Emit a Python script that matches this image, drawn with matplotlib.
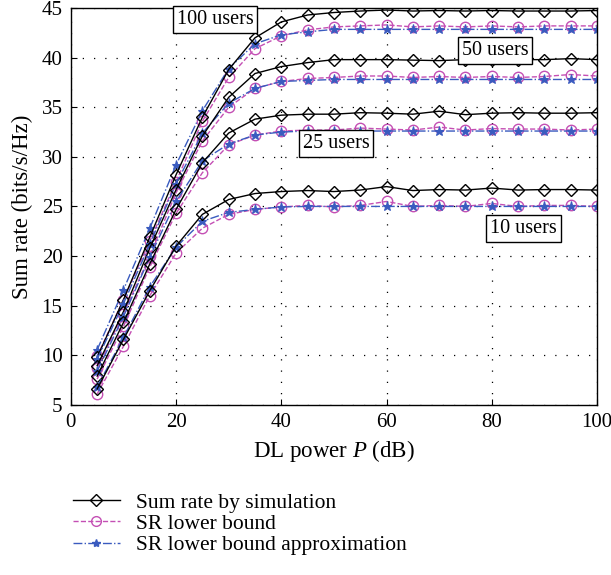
import matplotlib
matplotlib.use('Agg')
import matplotlib.pyplot as plt
from matplotlib.lines import Line2D

plt.rcParams['font.family'] = ['Liberation Serif', 'DejaVu Serif']
plt.rcParams['mathtext.fontset'] = 'custom'
plt.rcParams['mathtext.it'] = 'Liberation Serif:italic'

power_db = [5, 10, 15, 20, 25, 30, 35, 40, 45, 50, 55, 60, 65, 70, 75, 80, 85, 90, 95, 100]

# sum rate by simulation
sim_100 = [9.8, 15.6, 21.9, 28.2, 34.0, 38.8, 42.0, 43.6, 44.3, 44.55, 44.7, 44.8, 44.7, 44.75, 44.7, 44.75, 44.7, 44.7, 44.7, 44.75]
sim_50 = [8.95, 14.4, 20.8, 26.7, 32.1, 36.0, 38.4, 39.1, 39.5, 39.8, 39.8, 39.8, 39.75, 39.7, 39.8, 39.8, 39.8, 39.8, 39.9, 39.8]
sim_25 = [7.9, 13.3, 19.2, 24.7, 29.4, 32.4, 33.8, 34.2, 34.3, 34.3, 34.45, 34.4, 34.3, 34.6, 34.25, 34.4, 34.45, 34.4, 34.4, 34.45]
sim_10 = [6.6, 11.6, 16.5, 21.0, 24.2, 25.7, 26.3, 26.5, 26.6, 26.5, 26.65, 27.0, 26.6, 26.7, 26.65, 26.85, 26.65, 26.7, 26.7, 26.65]

# SR lower bound
lb_100 = [9.9, 15.6, 21.5, 27.5, 33.6, 38.0, 40.9, 42.2, 42.8, 43.1, 43.2, 43.3, 43.1, 43.2, 43.1, 43.2, 43.1, 43.2, 43.2, 43.2]
lb_50 = [8.7, 14.2, 20.0, 26.4, 31.6, 35.0, 36.9, 37.6, 37.9, 38.0, 38.15, 38.15, 38.0, 38.1, 38.0, 38.1, 38.0, 38.1, 38.3, 38.15]
lb_25 = [7.6, 12.9, 18.9, 24.3, 28.4, 31.2, 32.2, 32.6, 32.7, 32.7, 32.9, 32.8, 32.7, 33.0, 32.7, 32.85, 32.8, 32.8, 32.7, 32.8]
lb_10 = [6.1, 10.9, 16.0, 20.3, 22.8, 24.2, 24.7, 24.95, 25.1, 24.95, 25.1, 25.5, 25.0, 25.1, 25.0, 25.3, 25.0, 25.1, 25.1, 25.0]

# SR lower bound approximation
ap_100 = [10.55, 16.6, 22.8, 29.2, 34.65, 38.9, 41.4, 42.3, 42.6, 42.85, 42.85, 42.85, 42.85, 42.85, 42.85, 42.85, 42.85, 42.85, 42.85, 42.85]
ap_50 = [9.6, 15.2, 21.2, 27.3, 32.4, 35.4, 36.9, 37.6, 37.7, 37.8, 37.8, 37.8, 37.8, 37.8, 37.8, 37.8, 37.8, 37.8, 37.8, 37.8]
ap_25 = [8.4, 13.9, 19.9, 25.5, 29.6, 31.3, 32.2, 32.5, 32.6, 32.6, 32.6, 32.6, 32.6, 32.6, 32.6, 32.6, 32.6, 32.6, 32.6, 32.6]
ap_10 = [6.8, 11.8, 16.9, 20.9, 23.5, 24.4, 24.7, 24.95, 25.0, 25.0, 25.0, 25.0, 25.0, 25.0, 25.0, 25.0, 25.0, 25.0, 25.0, 25.0]

labels = ['100 users', '50 users', '25 users', '10 users']
label_pos = [(27.4, 43.8), (80.6, 40.7), (50.4, 31.3), (86.1, 22.8)]

magenta = '#c44fb4'
blue = '#3a5bbf'

fig = plt.figure(figsize=(6.11, 5.75), dpi=100)
ax = fig.add_axes([0.116, 0.296, 0.861, 0.690])

for sim, lb, ap in [(sim_100, lb_100, ap_100), (sim_50, lb_50, ap_50),
                    (sim_25, lb_25, ap_25), (sim_10, lb_10, ap_10)]:
    ax.plot(power_db, lb, '--', color=magenta, lw=1, marker='o', ms=7.5,
            mfc='none', mec=magenta, mew=1)
    ax.plot(power_db, ap, '-.', color=blue, lw=1, marker='*', ms=6.5,
            mfc=blue, mec=blue, mew=0.8)
    ax.plot(power_db, sim, '-', color='black', lw=1, marker='D', ms=6.5,
            mfc='none', mec='black', mew=1)

for txt, (x, y) in zip(labels, label_pos):
    ax.text(x, y, txt, fontsize=14.5, ha='center', va='center',
            bbox=dict(boxstyle='square,pad=0.2', fc='white', ec='black', lw=1))

ax.set_xlim(0, 100)
ax.set_ylim(5, 45)
ax.set_xticks(range(0, 101, 20))
ax.set_yticks(range(5, 46, 5))
ax.tick_params(direction='in', labelsize=15, length=4, pad=6)
ax.grid(True, linestyle=(0, (1, 8)), color='black', lw=0.9)
for s in ax.spines.values():
    s.set_linewidth(1)
ax.set_xlabel('DL power $P$ (dB)', fontsize=16.5, labelpad=4)
ax.set_ylabel('Sum rate (bits/s/Hz)', fontsize=16.5, labelpad=6)

handles = [
    Line2D([], [], color='black', ls='-', lw=1, marker='D', ms=6, mfc='none', mec='black'),
    Line2D([], [], color=magenta, ls='--', lw=1, marker='o', ms=7, mfc='none', mec=magenta),
    Line2D([], [], color=blue, ls='-.', lw=1, marker='*', ms=6, mfc=blue, mec=blue),
]
fig.legend(handles, ['Sum rate by simulation', 'SR lower bound', 'SR lower bound approximation'],
           loc='upper left', bbox_to_anchor=(0.105, 0.158), frameon=False,
           fontsize=15.5, handlelength=2.2, labelspacing=0.05, handletextpad=0.75,
           borderaxespad=0)

fig.savefig('out.png', dpi=100)
